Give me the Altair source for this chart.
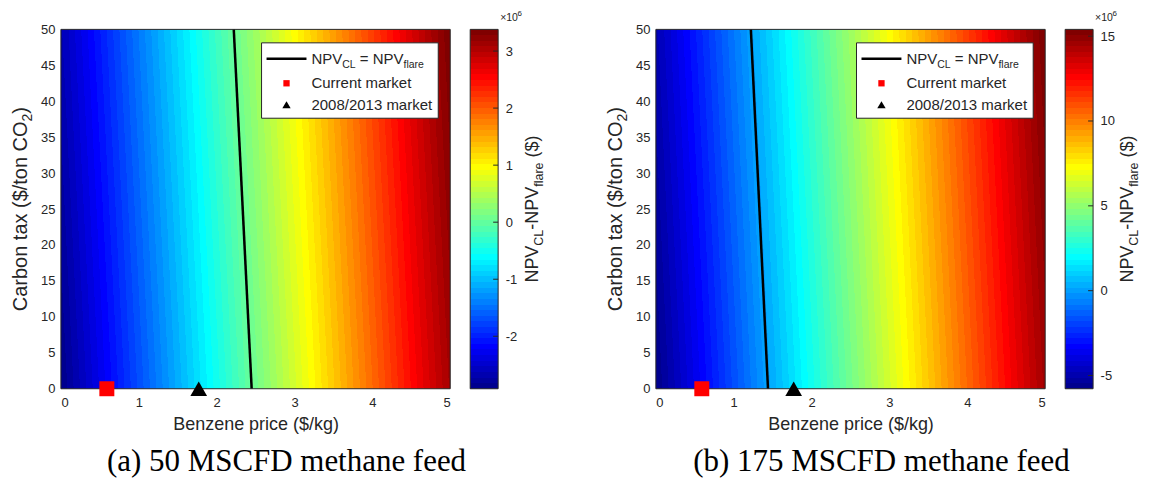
import altair as alt
import numpy as np
import pandas as pd

# ---------------- values ----------------
price_range = [0, 5]                      # Benzene price ($/kg)
tax_range = [0, 50]                       # Carbon tax ($/ton CO2)
price_ticks = [0, 1, 2, 3, 4, 5]
tax_ticks = [0, 5, 10, 15, 20, 25, 30, 35, 40, 45, 50]

npv_range_a = [-2.92, 3.38]               # colour bar extent, x1e6 $
npv_ticks_a = [-2, -1, 0, 1, 2, 3]
npv_range_b = [-5.78, 15.40]
npv_ticks_b = [-5, 0, 5, 10, 15]

contour_tax = [0, 50]                     # NPV_CL = NPV_flare line
contour_price_a = [2.45, 2.22]
contour_price_b = [1.44, 1.22]

current_price = [0.59]
current_tax = [0]
hist_price = [1.77]
hist_tax = [0]

captions = ["(a) 50 MSCFD methane feed", "(b) 175 MSCFD methane feed"]
legend_labels = ["Current market", "2008/2013 market"]

# ---------------- style ----------------
FONT = "Liberation Sans"
SERIF = "Liberation Serif"
COL = "#262626"
W, H = 390, 360
CBW = 28
TFS = 18      # x title / colour bar title size
YFS = 20      # y title size
SFS = 12.5    # subscript size in titles


def jet(m=64):
    n = int(np.ceil(m / 4))
    u = np.concatenate([np.arange(1, n + 1) / n, np.ones(n - 1), np.arange(n, 0, -1) / n])
    g = int(np.ceil(n / 2)) - (1 if m % 4 == 1 else 0) + np.arange(1, len(u) + 1)
    r = g + n
    b = g - n
    J = np.zeros((m, 3))
    for idx, c in ((r, 0), (g, 1), (b, 2)):
        ok = (idx >= 1) & (idx <= m)
        J[idx[ok] - 1, c] = u[ok]
    return ["#%02x%02x%02x" % tuple(int(round(v * 255)) for v in row) for row in J]


JET = jet(64)
STOPS = []
for i, c in enumerate(JET):
    STOPS.append({"offset": i / 64, "color": c})
    STOPS.append({"offset": (i + 1) / 64, "color": c})

AW = {' ': 278, '(': 333, ')': 333, '$': 556, '/': 278, '-': 333, '=': 584, '2': 556,
      'C': 722, 'L': 556, 'N': 722, 'O': 778, 'P': 667, 'V': 667,
      'a': 556, 'b': 556, 'e': 556, 'f': 278, 'k': 500, 'l': 222, 'n': 556, 'o': 556,
      'r': 333, 't': 278, 'x': 500, 'u': 556, 'm': 833, 'c': 500, 'i': 222, 'g': 556}


def tw(s, fs):
    return sum(AW.get(ch, 556) for ch in s) / 1000 * fs


ONE = pd.DataFrame({"k": [0]})


def text_parts(parts, x, y, angle=0, center=True, color=COL):
    widths = [tw(t, fs) for t, fs, dy in parts]
    off = -sum(widths) / 2 if center else 0
    out = []
    for (t, fs, dy), w in zip(parts, widths):
        lead = len(t) - len(t.lstrip(" "))
        o = off + tw(" " * lead, fs)
        kw = dict(text=t.strip(" "), fontSize=fs, font=FONT, color=color, align="left",
                  baseline="alphabetic", dx=o, dy=dy)
        if angle:
            kw["angle"] = angle
        out.append(alt.Chart(ONE).mark_text(**kw).encode(x=alt.value(x), y=alt.value(y)))
        off += w
    return out


def heat_panel(npv_range, contour_price, caption):
    xs = alt.Scale(domain=price_range, nice=False, zero=False)
    ys = alt.Scale(domain=tax_range, nice=False, zero=False)
    xaxis = alt.Axis(values=price_ticks, title="Benzene price ($/kg)", labelPadding=8,
                     titlePadding=6, titleFontSize=TFS, titleFontWeight="normal", format="d")
    yaxis = alt.Axis(values=tax_ticks, title=None, labelPadding=6, format="d")

    def X(f):
        return alt.X(f, type="quantitative", scale=xs, axis=xaxis)

    def Y(f):
        return alt.Y(f, type="quantitative", scale=ys, axis=yaxis)

    s = (contour_price[0] - contour_price[1]) / (price_range[1] - price_range[0])
    k = (1 + s) / (1 + s * s)
    grad = {"gradient": "linear", "x1": 0, "y1": 1, "x2": k, "y2": 1 - s * k, "stops": STOPS}

    fdf = pd.DataFrame({"p": [price_range[0]], "p2": [price_range[1]],
                        "t": [tax_range[0]], "t2": [tax_range[1]]})
    field = alt.Chart(fdf).mark_rect(fill=grad, strokeWidth=0).encode(
        x=X("p"), x2="p2", y=Y("t"), y2="t2")
    frame = alt.Chart(fdf).mark_rect(fillOpacity=0, stroke=COL, strokeWidth=1).encode(
        x=X("p"), x2="p2", y=Y("t"), y2="t2")

    cdf = pd.DataFrame({"p": contour_price, "t": contour_tax})
    contour = alt.Chart(cdf).mark_line(color="black", strokeWidth=2.5).encode(x=X("p"), y=Y("t"))

    sq = alt.Chart(pd.DataFrame({"p": current_price, "t": current_tax})).mark_point(
        shape="square", filled=True, color="#ff0000", size=225, opacity=1, strokeWidth=0,
        clip=False).encode(x=X("p"), y=Y("t"))
    tri = alt.Chart(pd.DataFrame({"p": hist_price, "t": hist_tax})).mark_point(
        shape="triangle-up", filled=True, color="#000000", size=280, opacity=1, strokeWidth=0,
        clip=False).encode(x=X("p"), y=Y("t"))

    # legend
    lx0, lx1, ly0, ly1 = 201, 378, 13.5, 89
    rows = [29.5, 54, 75.5]
    box = alt.Chart(ONE).mark_rect(fill="white", stroke=COL, strokeWidth=1).encode(
        x=alt.value(lx0), x2=alt.value(lx1), y=alt.value(ly0), y2=alt.value(ly1))
    lline = alt.Chart(ONE).mark_rule(color="black", strokeWidth=2.5).encode(
        x=alt.value(206), x2=alt.value(246), y=alt.value(rows[0]))
    lsq = alt.Chart(ONE).mark_point(shape="square", filled=True, color="#ff0000", size=40,
                                    opacity=1, strokeWidth=0).encode(
        x=alt.value(226), y=alt.value(rows[1]))
    ltri = alt.Chart(ONE).mark_point(shape="triangle-up", filled=True, color="black", size=70,
                                     opacity=1, strokeWidth=0).encode(
        x=alt.value(226), y=alt.value(rows[2]))
    LF = 15
    SF = 10.5
    row1 = text_parts([("NPV", LF, 0), ("CL", SF, 4), (" = NPV", LF, 0), ("flare", SF, 4)],
                      251, rows[0] + 5, center=False)
    row2 = alt.Chart(ONE).mark_text(text=legend_labels[0], font=FONT, fontSize=LF, color=COL,
                                    align="left", baseline="middle").encode(
        x=alt.value(251), y=alt.value(rows[1]))
    row3 = alt.Chart(ONE).mark_text(text=legend_labels[1], font=FONT, fontSize=LF, color=COL,
                                    align="left", baseline="middle").encode(
        x=alt.value(251), y=alt.value(rows[2]))

    ytitle = text_parts([("Carbon tax ($/ton CO", YFS, 0), ("2", 14, 5), (")", YFS, 0)],
                        -34, H / 2, angle=270)
    cap = alt.Chart(ONE).mark_text(text=caption, font=SERIF, fontSize=31, color="black",
                                   align="center", baseline="middle").encode(
        x=alt.value(226), y=alt.value(433))

    return alt.layer(field, contour, frame, sq, tri, box, lline, lsq, ltri, *row1, row2, row3,
                     *ytitle, cap).properties(width=W, height=H)


def colorbar(npv_range, ticks):
    ys = alt.Scale(domain=npv_range, nice=False, zero=False)
    xs = alt.Scale(domain=[0, 1], nice=False, zero=False)
    yaxis = alt.Axis(values=ticks, orient="right", title=None, labelPadding=7,
                     labelExpr="datum.value + ''")

    def Y(f):
        return alt.Y(f, type="quantitative", scale=ys, axis=yaxis)

    vgrad = {"gradient": "linear", "x1": 0, "y1": 1, "x2": 0, "y2": 0, "stops": STOPS}
    df = pd.DataFrame({"c": [0], "c2": [1], "v": [npv_range[0]], "v2": [npv_range[1]]})
    bar = alt.Chart(df).mark_rect(fill=vgrad, strokeWidth=0).encode(
        x=alt.X("c:Q", scale=xs, axis=None), x2="c2", y=Y("v"), y2="v2")
    frame = alt.Chart(df).mark_rect(fillOpacity=0, stroke=COL, strokeWidth=1).encode(
        x=alt.X("c:Q", scale=xs, axis=None), x2="c2", y=Y("v"), y2="v2")
    tdf = pd.DataFrame({"v": ticks})
    tk = alt.Chart(tdf).mark_rule(color=COL, strokeWidth=1).encode(
        y=Y("v"), x=alt.value(CBW - 5), x2=alt.value(CBW))
    expo = [
        alt.Chart(ONE).mark_text(text="\u00d710", font=FONT, fontSize=10.5, color=COL,
                                 align="left", baseline="alphabetic").encode(
            x=alt.value(30), y=alt.value(-8)),
        alt.Chart(ONE).mark_text(text="6", font=FONT, fontSize=8, color=COL,
                                 align="left", baseline="alphabetic").encode(
            x=alt.value(30 + tw("x10", 10.5) + 0.5), y=alt.value(-13)),
    ]
    title = text_parts([("NPV", TFS, 0), ("CL", SFS, 5), ("-NPV", TFS, 0), ("flare", SFS, 5),
                        (" ($)", TFS, 0)], 68, H / 2, angle=270)
    return alt.layer(bar, tk, frame, *expo, *title).properties(width=CBW, height=H)


spacer = alt.Chart(ONE).mark_point(opacity=0).encode(
    x=alt.value(0), y=alt.value(0)).properties(width=118, height=H)

chart = alt.hconcat(
    heat_panel(npv_range_a, contour_price_a, captions[0]),
    colorbar(npv_range_a, npv_ticks_a),
    spacer,
    heat_panel(npv_range_b, contour_price_b, captions[1]),
    colorbar(npv_range_b, npv_ticks_b),
    spacing=20, bounds="flush"
).resolve_scale(
    x="independent", y="independent"
).properties(
    padding={"left": 3, "top": 2, "right": 5, "bottom": 2}
).configure_view(stroke=None).configure_axis(
    labelFont=FONT, titleFont=FONT, labelColor=COL, titleColor=COL, labelFontSize=13,
    ticks=False, domain=False, grid=False
)

chart.save("out.html", embed_options={"renderer": "svg", "actions": False})
